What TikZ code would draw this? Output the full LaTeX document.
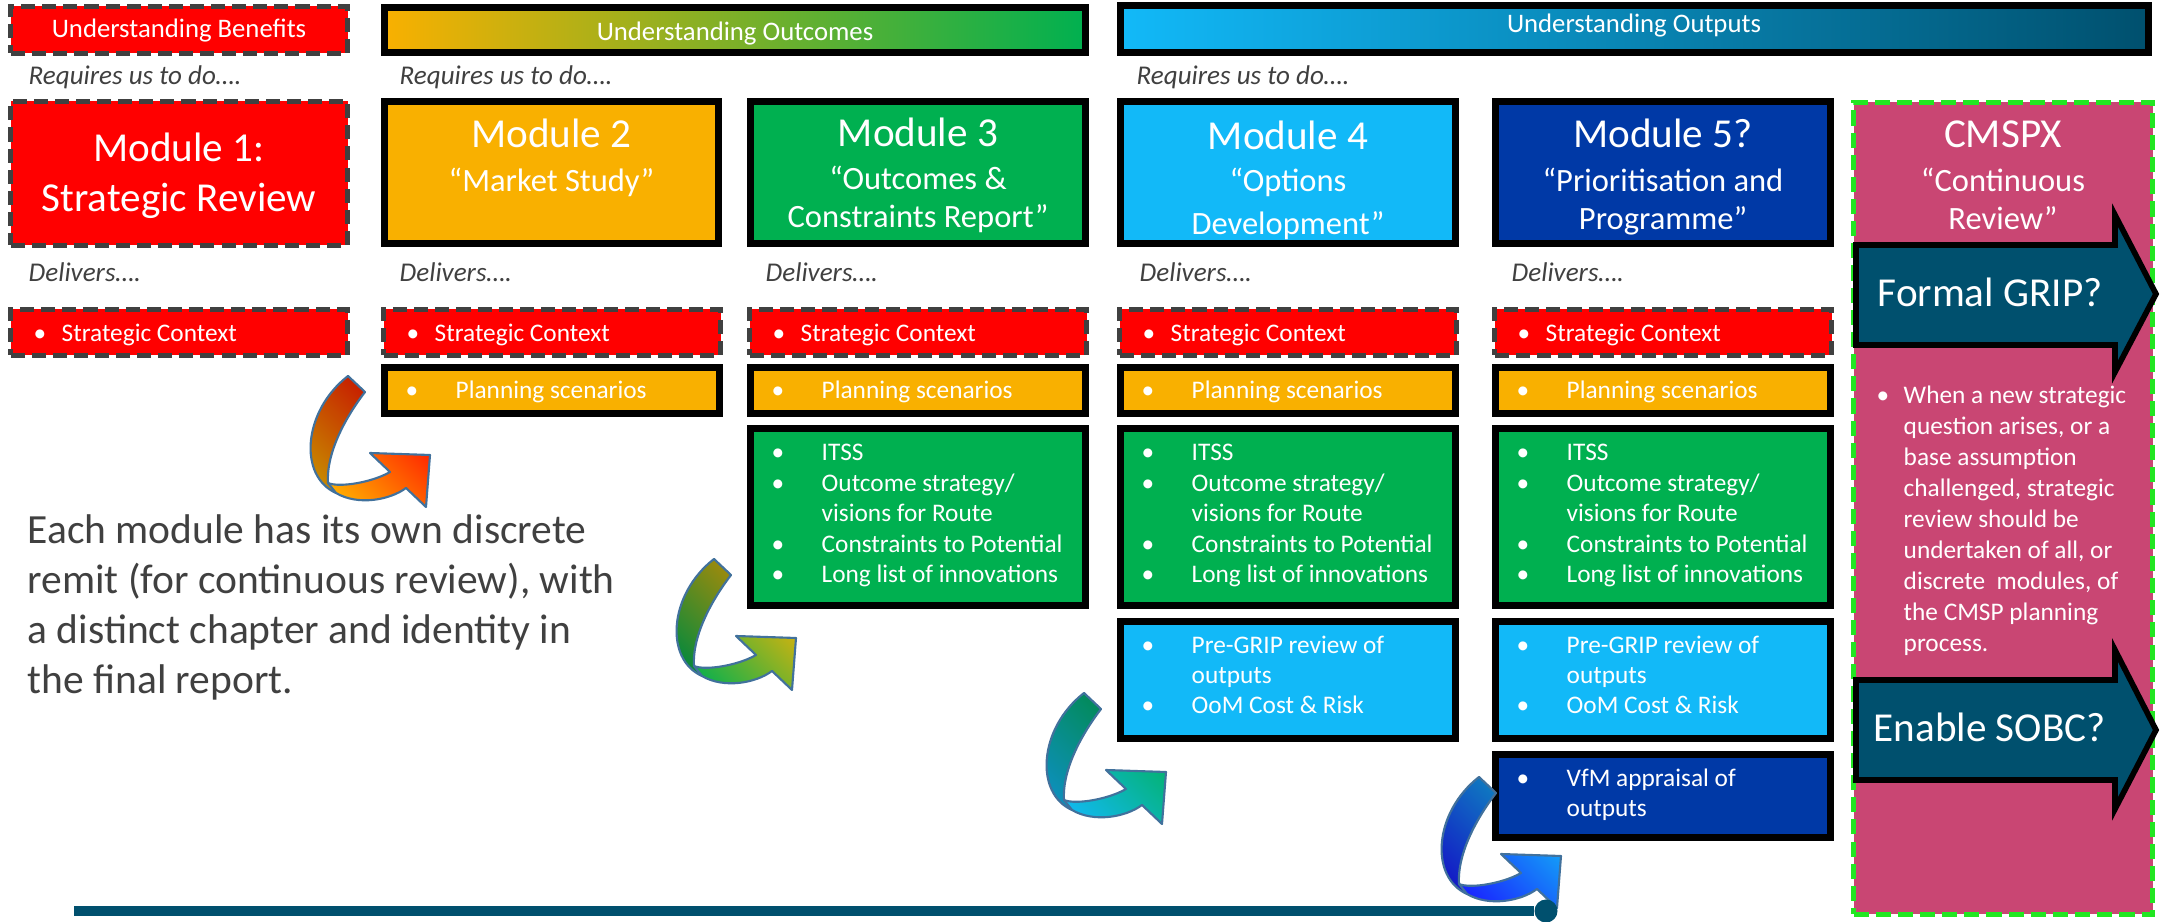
\documentclass[tikz,border=0pt]{standalone}
\usepackage{fontspec}
\setmainfont{Carlito}
\usetikzlibrary{fit}

\definecolor{modred}{HTML}{FF0000}
\definecolor{modorange}{HTML}{F9B000}
\definecolor{modgreen}{HTML}{00B050}
\definecolor{modcyan}{HTML}{12B9F8}
\definecolor{modblue}{HTML}{0039A6}
\definecolor{modpink}{HTML}{C94673}
\definecolor{deepteal}{HTML}{00506E}
\definecolor{dashgrey}{HTML}{404040}
\definecolor{dashlime}{HTML}{22E622}
\definecolor{ribbonedge}{HTML}{41719C}
\definecolor{notegrey}{HTML}{404040}
% ribbon gradient stops
\definecolor{rbAa}{HTML}{FF0000}\definecolor{rbAb}{HTML}{FFA000}\definecolor{rbAc}{HTML}{FFB800}
\definecolor{rbBa}{HTML}{FFB300}\definecolor{rbBb}{HTML}{5AB048}\definecolor{rbBc}{HTML}{00B050}
\definecolor{rbCa}{HTML}{00B050}\definecolor{rbCb}{HTML}{14AAE6}\definecolor{rbCc}{HTML}{12B9F8}
\definecolor{rbDa}{HTML}{12C0F5}\definecolor{rbDb}{HTML}{1E50FA}\definecolor{rbDc}{HTML}{1A1AFF}

\newcommand\fzTitle{\fontsize{11.7pt}{14pt}\selectfont}
\newcommand\fzSub{\fontsize{9.25pt}{11pt}\selectfont}
\newcommand\fzBanner{\fontsize{7.6pt}{9pt}\selectfont}
\newcommand\fzLabel{\fontsize{7.7pt}{9pt}\selectfont\itshape}
\newcommand\fzList{\fontsize{7.2pt}{8.6pt}\selectfont}
\newcommand\fzNote{\fontsize{11.8pt}{14pt}\selectfont}

% curved ribbon arrow; #1 = outer tail corner, #2/#3/#4 = gradient colours
% (y axis points down here, so a negative angle turns the gradient towards the upper right)
\newcommand\ribbonarrow[4]{%
 \begin{scope}[shift={(#1)}]
  \shade[left color=#2, middle color=#3, right color=#4, shading angle=-45]
   (0,0) -- (17,16) .. controls (0,38) and (-22,75) .. (-20,107)
   .. controls (-8,112) and (25,106) .. (42,96) -- (22,77) -- (82,79) -- (78,131) -- (58,112)
   .. controls (42,124) and (10,130) .. (-12,117)
   .. controls (-50,100) and (-45,35) .. (0,0) -- cycle;
  \fill[black, opacity=0.22]
   (0,0) -- (17,16) .. controls (0,38) and (-22,75) .. (-20,107) -- (-12,117)
   .. controls (-50,100) and (-45,35) .. (0,0) -- cycle;
  \draw[ribbonedge, line width=0.6pt, line join=round]
   (0,0) -- (17,16) .. controls (0,38) and (-22,75) .. (-20,107)
   .. controls (-8,112) and (25,106) .. (42,96) -- (22,77) -- (82,79) -- (78,131) -- (58,112)
   .. controls (42,124) and (10,130) .. (-12,117)
   .. controls (-50,100) and (-45,35) .. (0,0) -- cycle;
  \draw[ribbonedge, line width=0.6pt] (-20,107) -- (-12,117);
 \end{scope}}

\begin{document}
\begin{tikzpicture}[x=0.01cm, y=-0.01cm,
  dashbox/.style={draw=dashgrey, line width=1.42pt, dash pattern=on 4pt off 2pt, fill=modred, inner sep=0pt},
  blackbox/.style={draw=black, line width=2pt, inner sep=0pt},
  cmspxbox/.style={draw=dashlime, line width=1.42pt, dash pattern=on 4.3pt off 2pt, fill=modpink, inner sep=0pt},
  wtxt/.style={inner sep=0pt, text=white, anchor=base},
  ttl/.style={wtxt, font=\fzTitle},
  subttl/.style={wtxt, font=\fzSub},
  ban/.style={wtxt, font=\fzBanner},
  ltxt/.style={inner sep=0pt, text=white, anchor=base west, font=\fzList},
  lbl/.style={inner sep=0pt, text=notegrey, anchor=base west, font=\fzLabel},
  note/.style={inner sep=0pt, text=notegrey, anchor=base west, font=\fzNote},
  bigarrow/.style={draw=black, line width=1.6pt, fill=deepteal, line join=miter},
]
\fill[white] (0,0) rectangle (2163,922);
\useasboundingbox (0,0) rectangle (2163,922);

% ---- phase banners
\node[dashbox, fit={(10.5,6.5) (347.5,53.5)}] (benefits) {};
\node[ban] (benefitsT) at (179,38) {Understanding Benefits};
\node[blackbox, left color=modorange, right color=modgreen, fit={(384.5,7.5) (1085.5,52.5)}] (outcomes) {};
\node[ban] (outcomesT) at (735,41) {Understanding Outcomes};
\node[blackbox, left color=modcyan, right color=deepteal, fit={(1120.5,5.5) (2148.5,52.5)}] (outputs) {};
\node[ban] (outputsT) at (1634,33) {Understanding Outputs};

\node[lbl] (req1) at (28,85) {Requires us to do….};
\node[lbl] (req2) at (399,85) {Requires us to do….};
\node[lbl] (req3) at (1136,85) {Requires us to do….};

% ---- module boxes
\node[dashbox, fit={(10.5,101.5) (347.5,245.5)}] (mod1) {};
\node[blackbox, fill=modorange, fit={(384.5,101.5) (718.5,243.5)}] (mod2) {};
\node[blackbox, fill=modgreen, fit={(750.5,101.5) (1085.5,243.5)}] (mod3) {};
\node[blackbox, fill=modcyan, fit={(1120.5,101.5) (1455.5,243.5)}] (mod4) {};
\node[blackbox, fill=modblue, fit={(1495.5,101.5) (1830.5,243.5)}] (mod5) {};
\node[cmspxbox, fit={(1853.5,102.5) (2152.5,914.5)}] (cmspx) {};

\node[ttl] (mod1a) at (179,162) {Module 1:};
\node[ttl] (mod1b) at (179,212) {Strategic Review};
\node[ttl] (mod2a) at (551.5,148) {Module 2};
\node[subttl] (mod2b) at (551.5,192) {“Market Study”};
\node[ttl] (mod3a) at (918,147) {Module 3};
\node[subttl] (mod3b) at (918,190) {“Outcomes \&};
\node[subttl] (mod3c) at (918,228) {Constraints Report”};
\node[ttl] (mod4a) at (1288,150) {Module 4};
\node[subttl] (mod4b) at (1288,192) {“Options};
\node[subttl] (mod4c) at (1288,235) {Development”};
\node[ttl] (mod5a) at (1663,148) {Module 5?};
\node[subttl] (mod5b) at (1663,192) {“Prioritisation and};
\node[subttl] (mod5c) at (1663,230) {Programme”};
\node[ttl] (cmspxa) at (2003,148) {CMSPX};
\node[subttl] (cmspxb) at (2003,192) {“Continuous};
\node[subttl] (cmspxc) at (2003,230) {Review”};

\foreach \c/\x in {1/28, 2/399, 3/765, 4/1139, 5/1511}
  \node[lbl] (deliv\c) at (\x,282) {Delivers….};

% ---- deliverables
\foreach \c/\x in {1/8, 2/381, 3/747, 4/1117, 5/1492} {
  \node[dashbox, fit={(\x+2.5,309.5) (\x+339.5,355.5)}] (ctx\c) {};
  \node[ltxt] (ctx\c-b) at (\x+25,342) {•};
  \node[ltxt] (ctx\c-t) at (\x+53,342) {Strategic Context};
}
\foreach \c/\x in {2/381, 3/747, 4/1117, 5/1492} {
  \node[blackbox, fill=modorange, fit={(\x+3.5,367.5) (\x+338.5,413.5)}] (plan\c) {};
  \node[ltxt] (plan\c-b) at (\x+24,399) {•};
  \node[ltxt] (plan\c-t) at (\x+74,399) {Planning scenarios};
}
\foreach \c/\x in {3/747, 4/1117, 5/1492} {
  \node[blackbox, fill=modgreen, fit={(\x+3.5,428.5) (\x+338.5,605.5)}] (itss\c) {};
  \foreach \w [count=\i from 0] in {ITSS, Outcome strategy/, visions for Route, Constraints to Potential, Long list of innovations}
    \node[ltxt] (itss\c-\i) at (\x+74,461+30.5*\i) {\w};
  \foreach \i in {0,1,3,4}
    \node[ltxt] (itss\c-b\i) at (\x+24,461+30.5*\i) {•};
}
\foreach \c/\x in {4/1117, 5/1492} {
  \node[blackbox, fill=modcyan, fit={(\x+3.5,621.5) (\x+338.5,738.5)}] (grip\c) {};
  \foreach \w [count=\i from 0] in {Pre-GRIP review of, outputs, OoM Cost \& Risk}
    \node[ltxt] (grip\c-\i) at (\x+74,654+30*\i) {\w};
  \foreach \i in {0,2}
    \node[ltxt] (grip\c-b\i) at (\x+24,654+30*\i) {•};
}
\node[blackbox, fill=modblue, fit={(1495.5,754.5) (1830.5,837.5)}] (vfm5) {};
\node[ltxt] (vfm5-b) at (1516,787) {•};
\node[ltxt] (vfm5-0) at (1566,787) {VfM appraisal of};
\node[ltxt] (vfm5-1) at (1566,817) {outputs};

% ---- continuous review column
\draw[bigarrow] (1856,245) -- (2115,245) -- (2115,215) -- (2156,294) -- (2115,372) -- (2115,345) -- (1856,345) -- cycle;
\node[ttl, anchor=base west] (formalgrip) at (1877,307) {Formal GRIP?};
\node[ltxt] (cmspx-b) at (1876,404) {•};
\foreach \w [count=\i from 0] in {When a new strategic, {question arises, or a}, base assumption, {challenged, strategic}, review should be, {undertaken of all, or}, {discrete\ \ modules, of}, the CMSP planning, process.}
  \node[ltxt] (cmspx-\i) at (1903,404+31*\i) {\w};
\draw[bigarrow] (1856,680) -- (2115,680) -- (2115,650) -- (2156,730) -- (2115,809) -- (2115,780) -- (1856,780) -- cycle;
\node[ttl, anchor=base west] (sobc) at (1873,742) {Enable SOBC?};

% ---- note
\node[note] (note1) at (27,544) {Each module has its own discrete};
\node[note] (note2) at (27,594) {remit (for continuous review), with};
\node[note] (note3) at (27,644) {a distinct chapter and identity in};
\node[note] (note4) at (27,694) {the final report.};

% ---- ribbon arrows between modules
\ribbonarrow{348,376}{rbAa}{rbAb}{rbAc}
\ribbonarrow{714,559}{rbBa}{rbBb}{rbBc}
\ribbonarrow{1084,693}{rbCa}{rbCb}{rbCc}
\ribbonarrow{1479,777}{rbDa}{rbDb}{rbDc}

% ---- timeline
\coordinate (tlstart) at (74,911);
\node[circle, fill=deepteal, inner sep=0pt, minimum size=0.23cm] (tlend) at (1546,911) {};
\draw[deepteal, line width=2.56pt] (tlstart) -- (tlend);
\end{tikzpicture}
\end{document}
